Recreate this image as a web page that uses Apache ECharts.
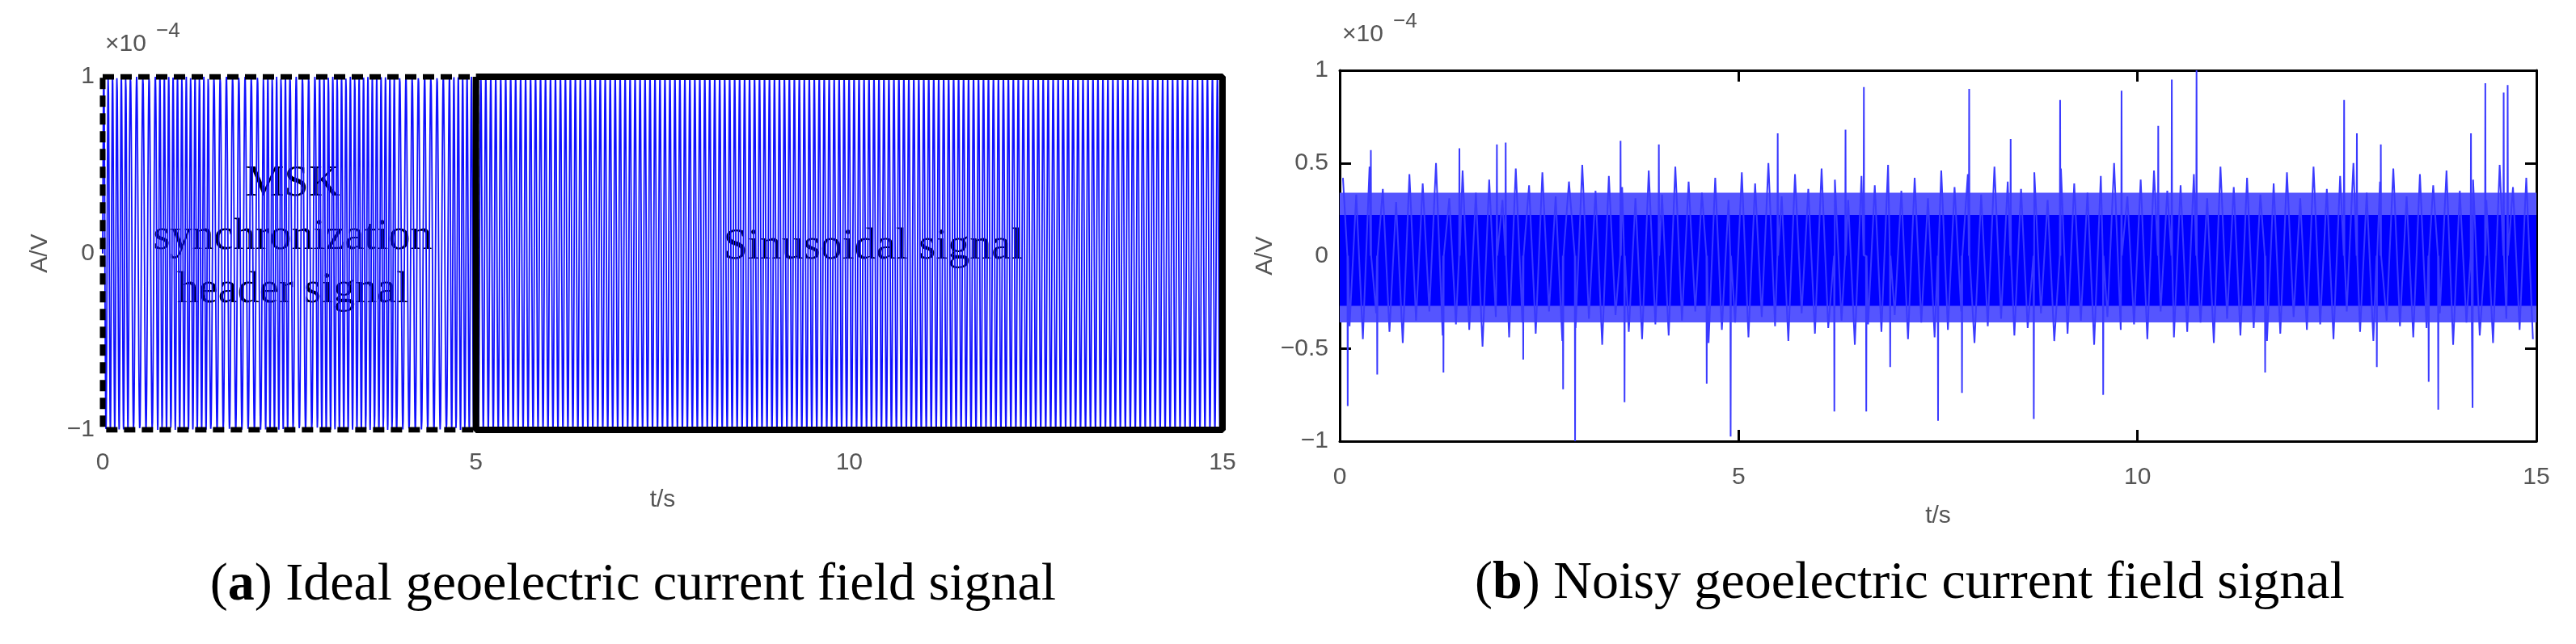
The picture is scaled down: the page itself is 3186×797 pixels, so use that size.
<!DOCTYPE html>
<html>
<head>
<meta charset="utf-8">
<script src="https://cdn.jsdelivr.net/npm/echarts@6/dist/echarts.min.js"></script>
<style>html,body{margin:0;padding:0;background:#fff}#main{width:3186px;height:797px}</style>
</head>
<body>
<div id="main"></div>
<script>
// panel (a): ideal signal parameters
var mskBits = [1,0,1,1,0,0,1,0,1,1,1,0,0,1];   // 14 header bits over 0-5 s
var mskFreqs = [12, 17];                       // Hz for bit 0 / bit 1
var sineFreq = 15;                             // Hz, 5-15 s
var amp = 1;

// panel (b): noisy signal, estimated peaks
var noiseEdge = [0.42,-0.38,0.33,-0.45,0.48,-0.31,0.36,-0.41,0.29,-0.47,0.44,-0.35,0.39,-0.3,0.5,-0.43,0.31,-0.37,0.46,-0.4,
  0.34,-0.49,0.41,-0.33,0.3,-0.44,0.47,-0.36,0.38,-0.42,0.45,-0.3,0.32,-0.46,0.4,-0.39,0.49,-0.34,0.35,-0.48,
  0.43,-0.32,0.37,-0.41,0.31,-0.45,0.46,-0.37,0.33,-0.43,0.48,-0.35,0.4,-0.3,0.34,-0.47,0.42,-0.4,0.3,-0.36,
  0.45,-0.44,0.39,-0.33,0.5,-0.38,0.32,-0.46,0.44,-0.31,0.36,-0.42,0.47,-0.39,0.41,-0.35,0.3,-0.48,0.43,-0.37,
  0.38,-0.41,0.49,-0.32,0.35,-0.45,0.42,-0.36,0.31,-0.44,0.46,-0.4,0.37,-0.3,0.44,-0.47,0.33,-0.38,0.48,-0.34,
  0.4,-0.43,0.36,-0.39,0.45,-0.31,0.3,-0.46,0.47,-0.42,0.39,-0.35,0.34,-0.48,0.43,-0.33,0.5,-0.4,0.32,-0.37,
  0.41,-0.45,0.46,-0.3,0.35,-0.44,0.38,-0.41,0.44,-0.36,0.31,-0.47,0.48,-0.34,0.37,-0.43,0.42,-0.39,0.33,-0.46,
  0.39,-0.42,0.45,-0.33,0.31,-0.4,0.48,-0.37,0.36,-0.45,0.43,-0.3,0.5,-0.41,0.34,-0.46,0.4,-0.35,0.47,-0.38,
  0.32,-0.44,0.44,-0.39,0.38,-0.31,0.46,-0.48,0.35,-0.36,0.41,-0.43,0.3,-0.47,0.49,-0.34,0.37,-0.4,0.42,-0.45];
var upSpikes = [[0.39,0.57],[1.5,0.58],[1.97,0.6],[2.08,0.61],[3.52,0.62],[4.0,0.6],[5.49,0.66],[6.34,0.68],[6.57,0.91],
  [7.89,0.9],[8.41,0.63],[9.03,0.84],[9.8,0.89],[10.26,0.7],[10.43,0.95],[10.74,1.0],[12.59,0.84],[12.75,0.66],
  [13.05,0.6],[14.18,0.66],[14.36,0.93],[14.59,0.88],[14.64,0.92]];
var downSpikes = [[0.1,-0.81],[0.47,-0.64],[1.3,-0.63],[2.3,-0.56],[2.8,-0.72],[2.95,-1.0],[3.57,-0.79],[4.6,-0.69],
  [4.9,-0.975],[6.2,-0.84],[6.6,-0.84],[6.9,-0.6],[7.5,-0.89],[7.8,-0.74],[8.7,-0.88],[9.57,-0.75],[11.6,-0.63],
  [13.0,-0.6],[13.65,-0.68],[13.77,-0.83],[14.2,-0.82]];
var bandOuter = [-0.36, 0.34], bandInner = [-0.27, 0.22];

var ideal = [];
var fs = 400, phase = 0, bitDur = 5 / mskBits.length;
for (var i = 0; i <= 15 * fs; i++) {
  var t = i / fs;
  var f = t < 5 ? mskFreqs[mskBits[Math.min(mskBits.length - 1, Math.floor(t / bitDur))]] : sineFreq;
  ideal.push([t, amp * Math.sin(phase)]);
  phase += 2 * Math.PI * f / fs;
}

var noisy = [];
var spikes = upSpikes.concat(downSpikes);
noiseEdge.forEach(function (v, k) { noisy.push([k * 15 / noiseEdge.length + 0.04, v]); });
spikes.forEach(function (s) { noisy.push([s[0] - 0.004, 0], [s[0], s[1]], [s[0] + 0.004, 0]); });
noisy.sort(function (a, b) { return a[0] - b[0]; });

var gray = '#555';
var tickFont = {color: gray, fontSize: 30, fontFamily: 'Liberation Sans'};
function fmtY(v) { return v < 0 ? '\u2212' + Math.abs(v) : String(v); }
function xAx(grid, pos) {
  return {type: 'value', gridIndex: grid, position: pos, min: 0, max: 15, interval: 5,
    axisLine: {show: true, onZero: false, lineStyle: {color: '#000', width: 3}},
    axisTick: {show: true, inside: true, length: 14, lineStyle: {color: '#000', width: 3}},
    axisLabel: {show: false}, splitLine: {show: false}};
}
function yAx(grid, pos) {
  return {type: 'value', gridIndex: grid, position: pos, min: -1, max: 1, interval: 0.5,
    axisLine: {show: true, onZero: false, lineStyle: {color: '#000', width: 3}},
    axisTick: {show: true, inside: true, length: 14, lineStyle: {color: '#000', width: 3}},
    axisLabel: {show: false}, splitLine: {show: false}};
}

var chart = echarts.init(document.getElementById('main'));
chart.setOption({
  backgroundColor: '#fff',
  animation: false,
  grid: [
    {left: 127, top: 95, width: 1385, height: 437},
    {left: 1657, top: 87, width: 1480, height: 459}
  ],
  xAxis: [
    {type: 'value', gridIndex: 0, min: 0, max: 15, interval: 5,
      axisLine: {show: false}, axisTick: {show: true, inside: true, length: 10, lineStyle: {color: '#000', width: 2}},
      axisLabel: Object.assign({margin: 26}, tickFont), splitLine: {show: false},
      name: 't/s', nameLocation: 'middle', nameGap: 72, nameTextStyle: tickFont},
    Object.assign(xAx(1, 'bottom'), {axisLabel: Object.assign({show: true, margin: 30}, tickFont),
      name: 't/s', nameLocation: 'middle', nameGap: 78, nameTextStyle: tickFont}),
    xAx(1, 'top')
  ],
  yAxis: [
    {type: 'value', gridIndex: 0, min: -1, max: 1, interval: 1,
      axisLine: {show: false}, axisTick: {show: false},
      axisLabel: Object.assign({margin: 10, formatter: fmtY}, tickFont), splitLine: {show: false},
      name: 'A/V', nameLocation: 'middle', nameGap: 62, nameTextStyle: tickFont},
    Object.assign(yAx(1, 'left'), {
      axisLabel: Object.assign({show: true, margin: 14, formatter: fmtY}, tickFont),
      name: 'A/V', nameLocation: 'middle', nameGap: 70, nameTextStyle: tickFont}),
    yAx(1, 'right')
  ],
  series: [
    {type: 'line', xAxisIndex: 0, yAxisIndex: 0, data: ideal, showSymbol: false, sampling: null,
      lineStyle: {color: '#1010ff', width: 1.8}, silent: true},
    {type: 'line', xAxisIndex: 0, yAxisIndex: 0, showSymbol: false, silent: true,
      data: [[0, 1], [5, 1], [5, -1], [0, -1], [0, 1]],
      lineStyle: {color: '#000', width: 7, type: [14, 8]}},
    {type: 'line', xAxisIndex: 0, yAxisIndex: 0, showSymbol: false, silent: true,
      data: [[5, 1], [15, 1], [15, -1], [5, -1], [5, 1]],
      lineStyle: {color: '#000', width: 8}},
    {type: 'line', xAxisIndex: 1, yAxisIndex: 1, data: noisy, showSymbol: false, sampling: null, silent: true,
      lineStyle: {color: '#3a3aff', width: 2},
      markArea: {silent: true, data: [
        [{xAxis: 0, yAxis: bandOuter[0], itemStyle: {color: '#5555ff', opacity: 1}}, {xAxis: 15, yAxis: bandOuter[1]}],
        [{xAxis: 0, yAxis: bandInner[0], itemStyle: {color: '#0000ff', opacity: 1}}, {xAxis: 15, yAxis: bandInner[1]}]
      ]}}
  ],
  graphic: [
    {type: 'text', left: 130, top: 40, style: {text: '\u00d710', fill: gray, font: '30px "Liberation Sans"'}},
    {type: 'text', left: 193, top: 26, style: {text: '\u22124', fill: gray, font: '26px "Liberation Sans"'}},
    {type: 'text', left: 1660, top: 28, style: {text: '\u00d710', fill: gray, font: '30px "Liberation Sans"'}},
    {type: 'text', left: 1723, top: 14, style: {text: '\u22124', fill: gray, font: '26px "Liberation Sans"'}},
    {type: 'text', x: 362, y: 294, style: {text: 'MSK\nsynchronization\nheader signal', fill: '#000',
      font: '54px "Liberation Serif"', align: 'center', verticalAlign: 'middle', lineHeight: 66}},
    {type: 'text', x: 1080, y: 306, style: {text: 'Sinusoidal signal', fill: '#000',
      font: '54px "Liberation Serif"', align: 'center', verticalAlign: 'middle'}},
    {type: 'text', x: 783, y: 725, style: {rich: {b: {font: 'bold 66px "Liberation Serif"', fill: '#000'},
      n: {font: '66px "Liberation Serif"', fill: '#000'}},
      text: '{n|(}{b|a}{n|) Ideal geoelectric current field signal}', align: 'center', verticalAlign: 'middle'}},
    {type: 'text', x: 2362, y: 723, style: {rich: {b: {font: 'bold 66px "Liberation Serif"', fill: '#000'},
      n: {font: '66px "Liberation Serif"', fill: '#000'}},
      text: '{n|(}{b|b}{n|) Noisy geoelectric current field signal}', align: 'center', verticalAlign: 'middle'}}
  ]
});
window.onresize = chart.resize;
</script>
</body>
</html>
